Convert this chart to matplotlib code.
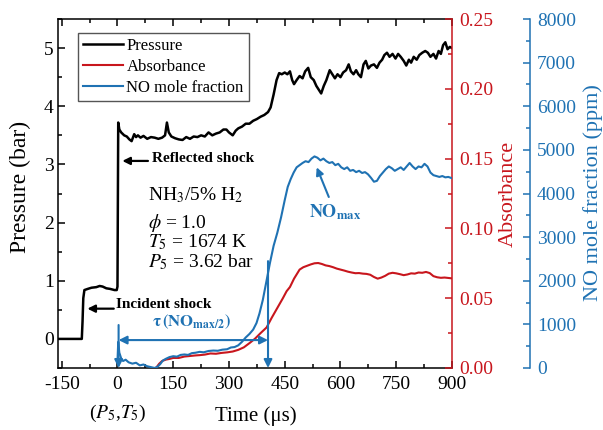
import matplotlib
matplotlib.use('Agg')
import matplotlib.pyplot as plt
from matplotlib.ticker import MultipleLocator

plt.rcParams['font.family'] = ['Liberation Serif', 'DejaVu Serif']
plt.rcParams['mathtext.fontset'] = 'stix'

RED = '#c8161d'
BLUE = '#1f72b3'

# ---------------- data ----------------
t_pressure = [-160, -96, -94, -92, -89, -80, -70, -57, -48, -40,
              -30, -20, -8, -2, 0, 1, 2, 5, 10, 18,
              25, 32, 38, 45, 50, 55, 62, 70, 80, 90,
              100, 110, 120, 128, 133, 138, 145, 155, 165, 175,
              185, 195, 205, 215, 225, 235, 245, 255, 265, 275,
              285, 293, 300, 310, 318, 325, 335, 345, 355, 365,
              375, 385, 395, 405, 412, 420, 428, 435, 442, 450,
              457, 464, 470, 475, 482, 490, 498, 505, 513, 520,
              528, 535, 542, 548, 555, 562, 571, 578, 585, 592,
              600, 607, 615, 622, 628, 635, 642, 648, 655, 662,
              668, 675, 682, 690, 698, 705, 712, 718, 725, 732,
              740, 748, 755, 762, 770, 777, 784, 790, 797, 805,
              812, 820, 828, 835, 842, 850, 857, 864, 870, 876,
              882, 888, 894, 900]
pressure = [0.0, 0.0, 0.3, 0.7, 0.84, 0.86, 0.88, 0.89, 0.91, 0.9,
            0.87, 0.86, 0.84, 0.84, 0.9, 2.5, 3.72, 3.6, 3.55, 3.5,
            3.48, 3.43, 3.4, 3.52, 3.47, 3.5, 3.46, 3.49, 3.44, 3.47,
            3.46, 3.44, 3.46, 3.5, 3.72, 3.55, 3.48, 3.45, 3.43, 3.42,
            3.47, 3.44, 3.48, 3.47, 3.5, 3.48, 3.55, 3.5, 3.53, 3.55,
            3.6, 3.6, 3.55, 3.5, 3.58, 3.62, 3.65, 3.7, 3.7, 3.75,
            3.78, 3.82, 3.85, 3.9, 3.98, 4.2, 4.45, 4.57, 4.55, 4.58,
            4.55, 4.6, 4.45, 4.38, 4.45, 4.52, 4.48, 4.6, 4.66, 4.5,
            4.45, 4.35, 4.28, 4.22, 4.35, 4.45, 4.62, 4.55, 4.48, 4.55,
            4.5, 4.58, 4.62, 4.72, 4.6, 4.55, 4.62, 4.55, 4.5, 4.72,
            4.78, 4.65, 4.7, 4.72, 4.66, 4.75, 4.8, 4.88, 4.92, 4.85,
            4.9, 4.82, 4.9, 4.85, 4.78, 4.7, 4.8, 4.75, 4.85, 4.8,
            4.88, 4.92, 4.95, 4.92, 4.85, 4.9, 4.82, 4.95, 4.9, 5.05,
            5.1, 4.98, 5.02, 5.0]

t_abs = [105, 112, 120, 130, 140, 150, 165, 180, 195, 210,
         221, 235, 250, 265, 280, 295, 310, 325, 340, 356,
         370, 385, 401, 415, 430, 445, 455, 464, 475, 490,
         500, 510, 520, 530, 540, 550, 560, 570, 580, 590,
         600, 610, 620, 630, 640, 650, 660, 670, 680, 690,
         700, 710, 720, 730, 740, 750, 760, 770, 780, 790,
         800, 810, 820, 830, 840, 850, 860, 870, 880, 890,
         900]
absorbance = [0.0005, 0.003, 0.005, 0.006, 0.0065, 0.0072, 0.0072, 0.0082, 0.0086, 0.009,
              0.0092, 0.0096, 0.0104, 0.0102, 0.0108, 0.0112, 0.0118, 0.013, 0.0148, 0.018,
              0.021, 0.025, 0.029, 0.036, 0.043, 0.05, 0.055, 0.058, 0.064, 0.0705,
              0.0722, 0.0732, 0.0742, 0.075, 0.0752, 0.0745, 0.0735, 0.073, 0.0722, 0.0712,
              0.0705, 0.0698, 0.069, 0.0684, 0.0679, 0.068, 0.0676, 0.0674, 0.0668, 0.0652,
              0.064, 0.0648, 0.066, 0.0676, 0.0682, 0.0678, 0.0672, 0.0665, 0.067, 0.0678,
              0.0676, 0.0684, 0.0682, 0.0688, 0.068, 0.0658, 0.065, 0.0646, 0.0648, 0.0645,
              0.0642]

t_no = [0, 2, 5, 10, 15, 22, 30, 40, 50, 60,
        70, 80, 90, 100, 108, 115, 122, 130, 140, 150,
        160, 170, 180, 190, 200, 210, 221, 232, 245, 258,
        270, 282, 295, 305, 315, 325, 335, 345, 355, 365,
        374, 382, 391, 401, 410, 420, 430, 440, 450, 458,
        466, 474, 482, 490, 498, 506, 514, 522, 530, 538,
        546, 554, 562, 570, 578, 586, 594, 602, 610, 618,
        626, 634, 642, 650, 658, 666, 674, 682, 690, 698,
        706, 714, 722, 730, 738, 746, 754, 762, 770, 778,
        786, 794, 802, 810, 818, 826, 834, 842, 850, 858,
        866, 874, 882, 890, 900]
no_ppm = [150, 600, 350, 220, 160, 190, 130, 100, 120, 60,
          80, 40, 20, 0, 30, 90, 170, 210, 250, 270,
          260, 300, 310, 300, 340, 350, 370, 360, 390, 400,
          395, 420, 430, 470, 480, 520, 600, 700, 780, 880,
          1030, 1250, 1560, 2000, 2400, 2800, 3100, 3450, 3850, 4150,
          4330, 4480, 4600, 4650, 4700, 4740, 4720, 4800, 4850, 4820,
          4760, 4800, 4740, 4700, 4720, 4650, 4680, 4600, 4560, 4600,
          4520, 4540, 4490, 4520, 4470, 4490, 4440, 4360, 4270, 4290,
          4400, 4480, 4560, 4620, 4580, 4520, 4560, 4600, 4540, 4620,
          4700, 4620, 4560, 4620, 4600, 4680, 4620, 4480, 4420, 4400,
          4380, 4400, 4370, 4380, 4350]

x_ticks = [-150, 0, 150, 300, 450, 600, 750, 900]
p_ticks = [0, 1, 2, 3, 4, 5]
abs_ticks = [0.00, 0.05, 0.10, 0.15, 0.20, 0.25]
no_ticks = [0, 1000, 2000, 3000, 4000, 5000, 6000, 7000, 8000]

tau_value = 405      # us
no_half = 2450       # ppm
no_peak_t, no_peak = 536, 4600

# ---------------- figure ----------------
fig = plt.figure(figsize=(6.03, 4.30), dpi=100)
ax = fig.add_axes([0.0962, 0.1442, 0.6534, 0.8116])
ax2 = ax.twinx()
ax3 = ax.twinx()
ax3.spines['right'].set_position(('axes', 1.198))

for a in (ax2, ax3):
    for s in ('left', 'top', 'bottom'):
        a.spines[s].set_visible(False)
ax.spines['right'].set_visible(False)
for s in ('left', 'top', 'bottom'):
    ax.spines[s].set_linewidth(1.1)
ax2.spines['right'].set_color(RED)
ax2.spines['right'].set_linewidth(1.1)
ax3.spines['right'].set_color(BLUE)
ax3.spines['right'].set_linewidth(1.1)

l1, = ax.plot(t_pressure, pressure, color='black', lw=1.8, label='Pressure')
l2, = ax2.plot(t_abs, absorbance, color=RED, lw=1.5, label='Absorbance')
l3, = ax3.plot(t_no, no_ppm, color=BLUE, lw=1.5, label='NO mole fraction')

ax.set_xlim(-160, 900)
ax.set_ylim(-0.5, 5.5)
ax2.set_ylim(0, 0.25)
ax3.set_ylim(0, 8000)

ax.set_xticks(x_ticks)
ax.set_xticklabels([str(v) for v in x_ticks])
ax.xaxis.set_minor_locator(MultipleLocator(75))
ax.set_yticks(p_ticks)
ax.yaxis.set_minor_locator(MultipleLocator(0.5))
ax2.set_yticks(abs_ticks)
ax2.set_yticklabels(['%.2f' % v for v in abs_ticks])
ax2.yaxis.set_minor_locator(MultipleLocator(0.025))
ax3.set_yticks(no_ticks)
ax3.yaxis.set_minor_locator(MultipleLocator(500))

ax.tick_params(which='both', direction='in', top=True, width=1.1, labelsize=14)
ax.tick_params(which='major', length=5)
ax.tick_params(which='minor', length=3)
ax.tick_params(axis='x', pad=6)
ax.tick_params(axis='y', pad=3)
ax2.tick_params(axis='y', which='both', direction='in', colors=RED, labelsize=14, pad=5, width=1.1)
ax2.tick_params(axis='y', which='major', length=5)
ax2.tick_params(axis='y', which='minor', length=3)
ax3.tick_params(axis='y', which='both', direction='in', colors=BLUE, labelsize=14, pad=5, width=1.1)
ax3.tick_params(axis='y', which='major', length=5)
ax3.tick_params(axis='y', which='minor', length=3)

ax.set_xlabel('Time (μs)', fontsize=15, va='center')
ax.xaxis.set_label_coords(0.503, -0.137)
ax.set_ylabel('Pressure (bar)', fontsize=17, va='center')
ax.yaxis.set_label_coords(-0.096, 0.52)
ax2.set_ylabel('Absorbance', fontsize=16, color=RED, va='center')
ax2.yaxis.set_label_coords(1.142, 0.50)
ax3.set_ylabel('NO mole fraction (ppm)', fontsize=16, color=BLUE, va='center')
ax3.yaxis.set_label_coords(1.358, 0.504)

ax.text(0, -0.131, r'($P_5$,$T_5$)', transform=ax.get_xaxis_transform(),
        ha='center', va='center', fontsize=14)

leg = ax3.legend([l1, l2, l3], ['Pressure', 'Absorbance', 'NO mole fraction'],
                 loc='upper left', bbox_to_anchor=(0.051, 0.96), borderaxespad=0,
                 fancybox=False, edgecolor='#555555', framealpha=1, fontsize=12,
                 handlelength=2.4, handletextpad=0.2, borderpad=0.3, labelspacing=0.3)
leg.get_frame().set_linewidth(1.0)

# shock annotations
arrow_k = dict(arrowstyle='-|>', color='black', lw=1.6, mutation_scale=11, shrinkA=0, shrinkB=0)
ax.annotate('', xy=(13, 3.06), xytext=(82, 3.06), arrowprops=arrow_k)
ax.text(94, 3.1, 'Reflected shock', fontsize=11, fontweight='bold', ha='left', va='center')
ax.annotate('', xy=(-81, 0.52), xytext=(-10, 0.52), arrowprops=arrow_k)
ax.text(-3, 0.6, 'Incident shock', fontsize=11, fontweight='bold', ha='left', va='center')

# condition text
ax.text(81, 2.47, r'NH$_3$/5% H$_2$', fontsize=14, va='center', ha='left')
ax.text(81, 2.0, r'$\phi$ = 1.0', fontsize=14, va='center', ha='left')
ax.text(81, 1.66, r'$T_5$ = 1674 K', fontsize=14, va='center', ha='left')
ax.text(81, 1.32, r'$P_5$ = 3.62 bar', fontsize=14, va='center', ha='left')

# NO max annotation
ax3.annotate(r'$\mathbf{NO}_{\mathbf{max}}$', xy=(no_peak_t, no_peak), xytext=(585, 3575),
             color=BLUE, fontsize=13, ha='center', va='center',
             arrowprops=dict(arrowstyle='-|>', color=BLUE, lw=1.5, mutation_scale=11,
                             shrinkA=2, shrinkB=0))

# tau annotation
arrow_b = dict(arrowstyle='-|>', color=BLUE, lw=1.5, mutation_scale=12, shrinkA=0, shrinkB=0)
ax3.annotate('', xy=(3, 640), xytext=(tau_value, 640),
             arrowprops=dict(arrowstyle='<|-|>', color=BLUE, lw=1.5, mutation_scale=12,
                             shrinkA=0, shrinkB=0))
ax3.annotate('', xy=(3, 0), xytext=(3, 985), arrowprops=arrow_b)
ax3.annotate('', xy=(tau_value, 0), xytext=(tau_value, no_half), arrowprops=arrow_b)
ax3.text(198, 1060, r'$\mathbf{\tau\,(NO}_{\mathbf{max/2}}\mathbf{)}$', color=BLUE,
         fontsize=12, ha='center', va='center')

fig.savefig('out.png', dpi=100)
